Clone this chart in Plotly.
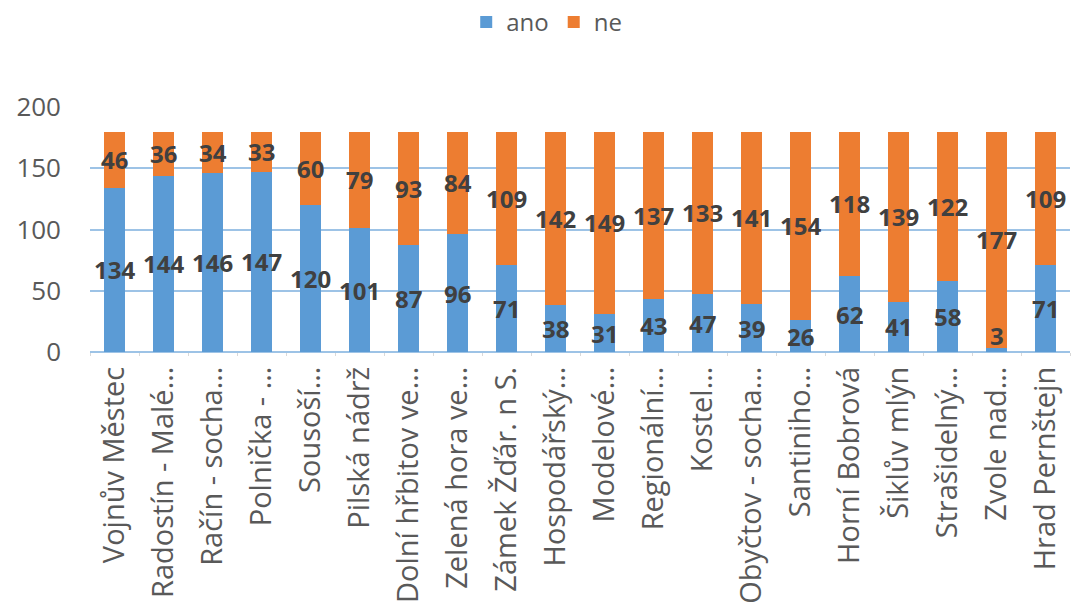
import plotly.graph_objects as go

categories = ["Vojnův Městec", "Radostín - Malé…", "Račín - socha…", "Polnička - …",
              "Sousoší…", "Pilská nádrž", "Dolní hřbitov ve…", "Zelená hora ve…",
              "Zámek Žďár. n S.", "Hospodářský…", "Modelové…", "Regionální…",
              "Kostel…", "Obyčtov - socha…", "Santiniho…", "Horní Bobrová",
              "Šiklův mlýn", "Strašidelný…", "Zvole nad…", "Hrad Pernštejn"]
ano = [134, 144, 146, 147, 120, 101, 87, 96, 71, 38, 31, 43, 47, 39, 26, 62, 41, 58, 3, 71]
ne = [46, 36, 34, 33, 60, 79, 93, 84, 109, 142, 149, 137, 133, 141, 154, 118, 139, 122, 177, 109]
y_ticks = [0, 50, 100, 150, 200]

FONT = "Open Sans"
label_font = dict(family=FONT, size=24, color="#404040", weight="bold")

fig = go.Figure()
fig.add_trace(go.Bar(x=categories, y=ano, name="ano", marker=dict(color="#5B9BD5", line=dict(width=0))))
fig.add_trace(go.Bar(x=categories, y=ne, name="ne", marker=dict(color="#ED7D31", line=dict(width=0))))

# data labels, centred in each segment (small segments anchored at their base)
for cat, a, n in zip(categories, ano, ne):
    for base, val in ((0, a), (a, n)):
        if val >= 12:
            fig.add_annotation(x=cat, y=base + val / 2, text=str(val), showarrow=False,
                               font=label_font, yanchor="middle", xanchor="center")
        else:
            fig.add_annotation(x=cat, y=base, text=str(val), showarrow=False,
                               font=label_font, yanchor="bottom", xanchor="center", yshift=-2)

fig.update_layout(
    barmode="stack",
    bargap=0.59,
    width=1072, height=609,
    paper_bgcolor="white", plot_bgcolor="white",
    margin=dict(l=90, r=2, t=107, b=257),
    legend=dict(orientation="h", x=0.51, xanchor="center", xref="container",
                y=1.0, yanchor="top", yref="container",
                font=dict(family=FONT, size=24, color="#595959"),
                itemwidth=30, traceorder="normal"),
    showlegend=True,
    font=dict(family=FONT),
)
fig.update_xaxes(type="category", tickangle=-90, tickfont=dict(family=FONT, size=29, color="#595959"),
                 showgrid=False, showline=False, ticks="outside", tickson="boundaries",
                 ticklen=3, tickcolor="#D9D9D9", ticklabelstandoff=8, automargin=False)
fig.update_yaxes(range=[0, 200], tickvals=y_ticks, tickfont=dict(family=FONT, size=26, color="#595959"),
                 showgrid=True, gridcolor="#9DC3E6", gridwidth=1.5, zeroline=True,
                 zerolinecolor="#9DC3E6", zerolinewidth=1.5, showline=False,
                 ticklabelstandoff=28, automargin=False)

fig.write_html("out.html")
